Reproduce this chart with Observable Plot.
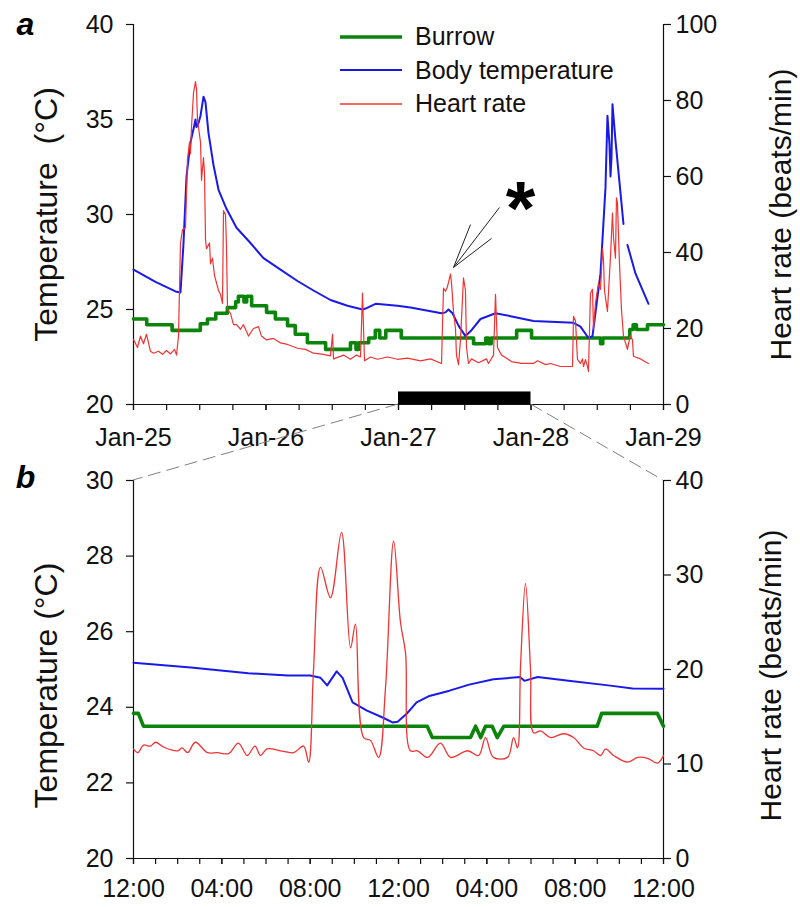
<!DOCTYPE html>
<html><head><meta charset="utf-8">
<script src="https://cdn.jsdelivr.net/npm/d3@7"></script>
<script src="https://cdn.jsdelivr.net/npm/@observablehq/plot@0.6"></script>
<style>
body{margin:0;background:#fff;font-family:"Liberation Sans",Arial,Helvetica,sans-serif;}
#wrap{position:relative;width:800px;height:907px;overflow:hidden;}
#pa,#pb{position:absolute;left:0;}
#pa{top:0}
#pb{top:470px}
#overlay{position:absolute;left:0;top:0;pointer-events:none}
#legend{position:absolute;left:340px;top:20px;font-size:25px;color:#111;line-height:1}
.row{height:33.5px;display:flex;align-items:center}
.row svg{margin-right:13px}
</style></head><body>
<div id="wrap"><div id="pa"></div><div id="pb"></div><svg id="overlay" width="800" height="907"></svg><div id="legend"></div></div>
<script>
// ---------- data ----------
const seriesNames = ["Burrow", "Body temperature", "Heart rate"];
// Panel a: [hours since Jan-25 00:00, value]
const burrowA = [[0,24.5],[2.4,24.2],[7.0,23.9],[12.1,24.25],[13.4,24.5],[14.9,24.8],[17.0,25.1],[18.5,25.4],[19.0,25.7],[20.0,25.4],[20.5,25.7],[21.4,25.2],[24.1,24.85],[25.7,24.5],[27.9,24.15],[29.3,23.7],[31.5,23.25],[34.8,22.9],[39.3,23.25],[40.3,22.9],[40.8,23.25],[42.6,23.5],[43.8,23.9],[44.6,23.5],[45.7,23.9],[48.5,23.5],[61.6,23.2],[63.8,23.5],[64.3,23.2],[64.8,23.5],[69.4,23.9],[72.1,23.5],[84.6,23.2],[85.0,23.5],[89.9,23.95],[90.5,24.2],[91.1,23.95],[93.1,24.2],[96,24.2]];
const bodyA = [[0,27.1],[3.98,26.45],[7.61,25.95],[8.51,25.9],[9.06,28.5],[9.6,32.0],[10.32,33.8],[10.87,34.5],[11.23,35.0],[11.41,34.6],[11.77,34.8],[12.14,35.2],[12.68,36.2],[13.04,35.9],[13.58,34.3],[14.49,32.6],[15.4,31.3],[16.84,30.3],[18.66,29.3],[21.19,28.5],[23.54,27.7],[26.63,27.1],[29.7,26.5],[32.6,26.0],[35.68,25.5],[38.76,25.2],[41.48,25.0],[42.02,25.05],[43.84,25.3],[47.82,25.2],[50.17,25.1],[55.79,24.8],[56.51,24.85],[57.05,25.0],[57.78,24.8],[58.87,24.15],[60.13,23.6],[61.04,23.85],[62.85,24.5],[65.57,24.8],[68.29,24.65],[72.45,24.4],[79.7,24.3],[80.96,24.1],[82.41,23.5],[83.14,23.6],[84.59,26.9],[85.49,31.4],[85.85,35.2],[86.21,33.7],[86.4,32.0],[86.58,33.0],[86.76,35.8],[87.3,33.9],[88.75,29.5],[89.1,null],[89.47,28.4],[90.92,26.9],[93.28,25.3]];
const heartA = [[0,17.1],[0.72,15],[1.27,18],[1.81,16],[2.35,18.5],[3.08,14],[3.62,13.5],[4.53,14],[5.25,13.2],[5.98,14.2],[6.7,13.3],[7.43,14.5],[7.79,13],[8.15,18],[8.51,42.5],[8.88,46],[9.42,46.5],[9.78,64.6],[10.14,69],[10.32,66],[10.51,73],[10.87,82],[11.23,85],[11.41,83],[11.59,75],[12.14,69],[12.32,59],[12.5,62],[12.68,65],[12.86,61],[13.04,43.5],[13.22,41],[13.77,42.5],[13.95,37],[14.31,38.5],[14.67,34],[15.4,30],[15.76,29],[16.12,26.6],[16.3,51],[16.66,50],[16.84,42],[17.03,25],[17.57,24],[18.11,21],[18.66,21],[19.38,19.8],[19.92,21],[20.83,18],[21.73,20],[22.64,20.5],[23.18,18],[24.09,17],[25.36,17.4],[26.63,16.2],[27.89,15.8],[29.7,14.8],[31.15,14.5],[32.6,13.5],[34.41,13.2],[35.68,12.8],[36.05,18.5],[36.23,12],[38.04,13],[39.3,11.9],[40.39,13],[41.12,12.5],[41.48,29.3],[41.84,11.5],[42.93,12.5],[44.19,11.9],[46.01,12.5],[47.82,11.9],[49.63,12.2],[51.98,11.5],[53.79,12],[55.79,10.8],[56.15,30.6],[56.51,29.8],[56.87,31],[57.42,34.3],[57.6,32],[57.96,24.5],[58.32,20],[58.5,13],[58.87,10.5],[59.23,17],[59.77,33.3],[60.13,30],[60.32,15],[60.68,10.8],[61.22,12],[62.49,11],[63.94,12],[64.3,10.8],[65.21,13],[65.57,29],[65.93,15],[66.66,13],[68.47,11.3],[70.28,10.8],[72.45,10.8],[73.18,11.5],[74.63,10.5],[75.53,10.8],[77.34,10],[79.52,10],[79.7,23.2],[80.06,22],[80.42,11.9],[80.96,10.8],[81.33,12],[81.51,10],[81.87,11.8],[82.23,10],[82.41,8.7],[82.77,29.3],[83.14,30.3],[83.32,19.8],[83.68,26.7],[84.22,32],[84.59,30.3],[84.95,41],[85.13,38],[85.31,30],[85.85,24.5],[86.4,39],[86.76,50.4],[86.94,44],[87.3,38.5],[87.48,54.4],[87.66,53],[88.03,37],[88.39,25],[88.75,18],[89.47,14.5],[89.66,16],[90.02,18],[90.38,17],[90.56,12.7],[91.83,12],[93.28,10.8]];
// Panel b: [hours since Jan-27 00:00, value]
const burrowB = [[0,23.84],[0.22,23.84],[0.45,23.5],[13.3,23.5],[13.53,23.2],[15.26,23.2],[15.49,23.5],[15.72,23.2],[15.94,23.5],[16.24,23.5],[16.47,23.2],[16.77,23.5],[21.0,23.5],[21.2,23.84],[23.72,23.84],[24,23.5]];
const bodyB = [[0,25.18],[2.6,25.05],[5.2,24.9],[7.0,24.84],[8.0,24.84],[8.47,24.78],[8.77,24.58],[9.2,24.95],[9.47,24.78],[9.92,24.13],[10.55,23.92],[11.28,23.73],[11.73,23.6],[11.96,23.62],[12.37,23.83],[12.82,24.13],[13.4,24.3],[14.31,24.44],[15.2,24.6],[16.3,24.74],[17.5,24.8],[17.7,24.7],[18.3,24.8],[19.7,24.7],[21.5,24.58],[22.6,24.5],[24,24.49]];
const heartB = [[0,11.6],[0.2,11.2],[0.45,12.0],[0.77,11.9],[1.0,12.3],[1.36,11.8],[2.0,11.4],[2.2,11.7],[2.45,11.2],[2.8,12.3],[3.35,11.2],[3.8,11.2],[4.3,11.1],[4.75,12.2],[5.15,10.9],[5.5,11.9],[5.75,10.9],[6.05,11.6],[6.65,11.4],[7.25,11.2],[7.7,11.9],[7.93,10.2],[8.15,19.9],[8.47,30.8],[8.92,27.6],[9.42,34.5],[9.83,22.3],[10.05,24.8],[10.42,12.8],[10.73,12.5],[11.1,10.7],[11.41,18],[11.78,33.6],[12.09,25],[12.32,21.7],[12.54,11.4],[12.86,11.4],[13.32,10.7],[13.9,12.2],[14.36,10.7],[15.13,11.4],[15.63,10.9],[15.94,12.8],[16.3,10.7],[16.94,10.7],[17.21,12.8],[17.39,11.7],[17.53,20.6],[17.75,29.1],[17.98,19.9],[18.12,13.3],[18.43,13.5],[18.89,12.8],[19.47,13.2],[19.93,12.8],[20.38,11.7],[20.83,11.4],[21.15,10.9],[21.38,11.6],[21.74,10.9],[22.37,10.2],[22.83,10.7],[23.28,10.6],[23.73,10.1],[24,10.9]];
// axis ticks and labels
const tempTicksA = [20, 25, 30, 35, 40];
const hrTicksA = [0, 20, 40, 60, 80, 100];
const tempTicksB = [20, 22, 24, 26, 28, 30];
const hrTicksB = [0, 10, 20, 30, 40];
const dayLabels = ["Jan-25", "Jan-26", "Jan-27", "Jan-28", "Jan-29"];
const hourLabels = ["12:00", "04:00", "08:00", "12:00", "04:00", "08:00", "12:00"];
// highlighted period (hours since Jan-25) and annotation
const zoomPeriod = [48, 72];
const starAnno = {h: 70.1, t: 31.8};
const arrowSegs = [[66.29,30.37,57.96,27.21],[61.04,29.47,57.96,27.21],[64.84,28.74,57.96,27.21]];

// ---------- helpers ----------
const HOUR = 36e5;
const t0A = Date.UTC(2013, 0, 25);
const t0B = Date.UTC(2013, 0, 27);
const dA = h => new Date(t0A + h * HOUR);
const dB = h => new Date(t0B + h * HOUR);
const colors = ["#0a840a", "#1a1ae8", "#f03434"];
const FONT = "Liberation Sans, Arial, Helvetica, sans-serif";
const hrToTA = v => 20 + v / 5;
const hrToTB = v => 20 + v / 4;

const xDomA = [dA(0), dA(96)];
const xDomB = [dB(0), dB(24)];
const dayDates = dayLabels.map((_, i) => dA(24 * i));
const hourDates = hourLabels.map((_, i) => dB(4 * i));

// ---------- panel a ----------
const chartA = Plot.plot({
  width: 800, height: 470,
  marginLeft: 133, marginRight: 137, marginTop: 24, marginBottom: 66,
  style: {fontFamily: FONT, fontSize: "25px", color: "#111", background: "transparent", overflow: "visible"},
  x: {type: "utc", domain: xDomA},
  y: {domain: [20, 40]},
  marks: [
    Plot.axisX(d3.utcHours(xDomA[0], new Date(+xDomA[1] + 1), 6), {tickSize: 6, tickFormat: () => "", strokeWidth: 1.2}),
    Plot.axisX(dayDates, {tickSize: 6, tickPadding: 18, strokeWidth: 1.2, tickFormat: d => dayLabels[Math.round((d - t0A) / (24 * HOUR))]}),
    Plot.axisY(tempTicksA, {anchor: "left", tickSize: 7, tickPadding: 13, label: null, strokeWidth: 1.2}),
    Plot.axisY(hrTicksA.map(hrToTA), {anchor: "right", tickSize: 7, tickPadding: 5, label: null, strokeWidth: 1.2, tickFormat: d => String(Math.round((d - 20) * 5))}),
    Plot.ruleX(xDomA, {stroke: "#111", strokeWidth: 1.2}),
    Plot.ruleY([20], {stroke: "#111", strokeWidth: 1.2}),
    Plot.rect([{a: dA(zoomPeriod[0]), b: dA(zoomPeriod[1])}], {x1: "a", x2: "b", y1: () => 20, y2: () => 20.66, fill: "#000"}),
    Plot.line(burrowA, {x: d => dA(d[0]), y: d => d[1], stroke: colors[0], strokeWidth: 3.6, curve: "step-after"}),
    Plot.line(bodyA, {x: d => dA(d[0]), y: d => d[1], stroke: colors[1], strokeWidth: 2}),
    Plot.line(heartA, {x: d => dA(d[0]), y: d => hrToTA(d[1]), stroke: colors[2], strokeWidth: 1.2}),
    Plot.link(arrowSegs, {x1: d => dA(d[0]), y1: d => d[1], x2: d => dA(d[2]), y2: d => d[3], stroke: "#222", strokeWidth: 1}),
    Plot.text(["*"], {x: () => dA(starAnno.h), y: () => starAnno.t, text: d => d, fontSize: 76, fontWeight: "bold", lineAnchor: "top", fill: "#000"}),
    Plot.text(["Temperature  (°C)"], {frameAnchor: "left", text: d => d, textAnchor: "middle", dx: -87, rotate: -90, fontSize: 32, fill: "#111"}),
    Plot.text(["Heart rate (beats/min)"], {frameAnchor: "right", text: d => d, textAnchor: "middle", dx: 118, rotate: -90, fontSize: 30, fill: "#111"}),
    Plot.text(["a"], {frameAnchor: "top-left", text: d => d, dx: -108, dy: 0, textAnchor: "middle", lineAnchor: "middle", fontSize: 32, fontWeight: "bold", fontStyle: "italic", fill: "#000"})
  ]
});
document.getElementById("pa").appendChild(chartA);

// ---------- panel b ----------
const chartB = Plot.plot({
  width: 800, height: 437,
  marginLeft: 133, marginRight: 137, marginTop: 10, marginBottom: 49,
  style: {fontFamily: FONT, fontSize: "25px", color: "#111", background: "transparent", overflow: "visible"},
  x: {type: "utc", domain: xDomB},
  y: {domain: [20, 30]},
  marks: [
    Plot.axisX(d3.utcHours(xDomB[0], new Date(+xDomB[1] + 1), 1), {tickSize: 6, tickFormat: () => "", strokeWidth: 1.2}),
    Plot.axisX(hourDates, {tickSize: 6, tickPadding: 15, strokeWidth: 1.2, tickFormat: d => hourLabels[Math.round((d - t0B) / (4 * HOUR))]}),
    Plot.axisY(tempTicksB, {anchor: "left", tickSize: 7, tickPadding: 13, label: null, strokeWidth: 1.2}),
    Plot.axisY(hrTicksB.map(hrToTB), {anchor: "right", tickSize: 7, tickPadding: 5, label: null, strokeWidth: 1.2, tickFormat: d => String(Math.round((d - 20) * 4))}),
    Plot.ruleX(xDomB, {stroke: "#111", strokeWidth: 1.2}),
    Plot.ruleY([20], {stroke: "#111", strokeWidth: 1.2}),
    Plot.line(burrowB, {x: d => dB(d[0]), y: d => d[1], stroke: colors[0], strokeWidth: 3.6}),
    Plot.line(bodyB, {x: d => dB(d[0]), y: d => d[1], stroke: colors[1], strokeWidth: 2}),
    Plot.line(heartB, {x: d => dB(d[0]), y: d => hrToTB(d[1]), stroke: colors[2], strokeWidth: 1.3, curve: "catmull-rom"}),
    Plot.text(["Temperature (°C)"], {frameAnchor: "left", text: d => d, textAnchor: "middle", dx: -87, dy: 16, rotate: -90, fontSize: 32, fill: "#111"}),
    Plot.text(["Heart rate (beats/min)"], {frameAnchor: "right", text: d => d, textAnchor: "middle", dx: 108, dy: 6, rotate: -90, fontSize: 30, fill: "#111"}),
    Plot.text(["b"], {frameAnchor: "top-left", text: d => d, dx: -108, dy: -3, textAnchor: "middle", lineAnchor: "middle", fontSize: 32, fontWeight: "bold", fontStyle: "italic", fill: "#000"})
  ]
});
document.getElementById("pb").appendChild(chartB);

// ---------- connector lines (from scales) ----------
const sxA = chartA.scale("x"), syA = chartA.scale("y");
const sxB = chartB.scale("x"), syB = chartB.scale("y");
const offB = 470;
const ov = d3.select("#overlay");
[[dA(zoomPeriod[0]), xDomB[0]], [dA(zoomPeriod[1]), xDomB[1]]].forEach(([a, b]) => {
  ov.append("line")
    .attr("x1", sxA.apply(a)).attr("y1", syA.apply(20))
    .attr("x2", sxB.apply(b)).attr("y2", offB + syB.apply(30))
    .attr("stroke", "#808080").attr("stroke-width", 1).attr("stroke-dasharray", "13,6");
});

// ---------- legend ----------
const lg = d3.select("#legend");
seriesNames.forEach((n, i) => {
  const r = lg.append("div").attr("class", "row");
  const s = r.append("svg").attr("width", 62).attr("height", 10);
  s.append("line").attr("x1", 0).attr("x2", 62).attr("y1", 5).attr("y2", 5)
    .attr("stroke", colors[i]).attr("stroke-width", [3.6, 2, 1.4][i]);
  r.append("span").text(n);
});
</script>
</body></html>
